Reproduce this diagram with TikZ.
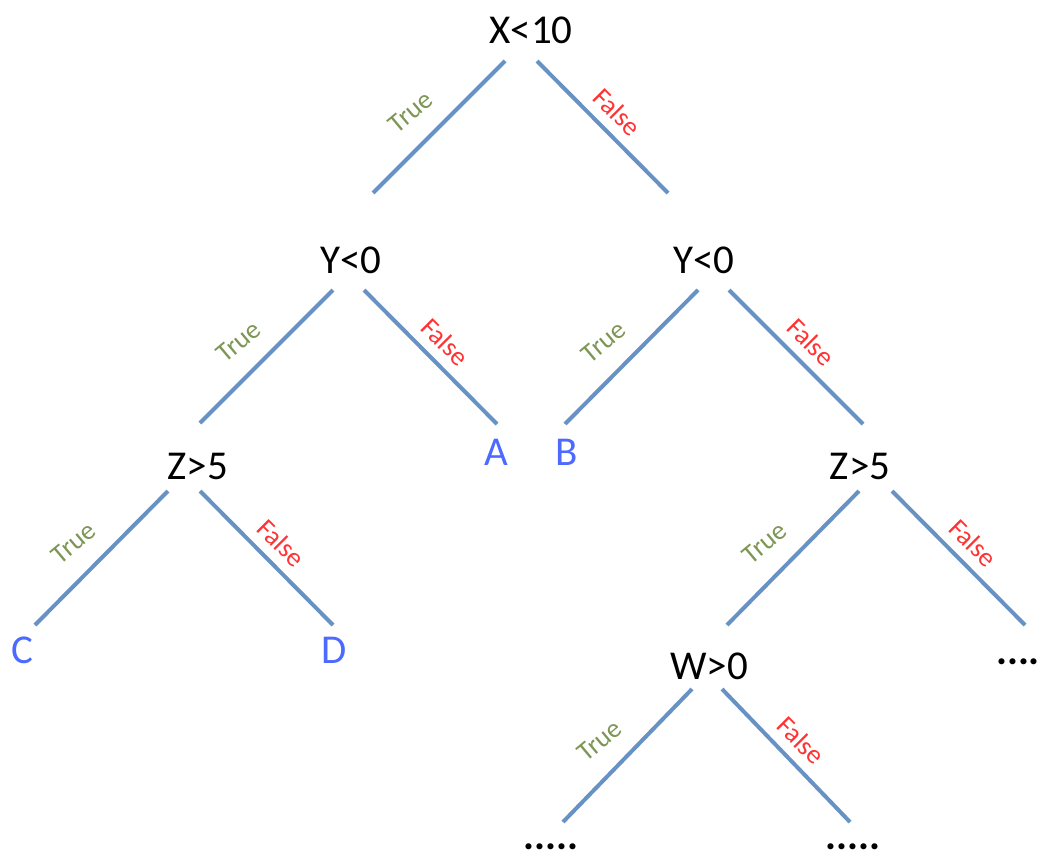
\documentclass[tikz,border=0pt]{standalone}
\usepackage{fontspec}
\setmainfont{Carlito}
\usepackage{xcolor}
\definecolor{branchblue}{RGB}{104,146,196}
\definecolor{truegreen}{RGB}{125,150,85}
\definecolor{falsered}{RGB}{255,51,51}
\definecolor{leafblue}{RGB}{76,106,255}

\begin{document}
\begin{tikzpicture}[x=1pt,y=-1pt,
  test/.style={font=\fontsize{41}{49}\selectfont},
  leaf/.style={test,text=leafblue},
  more/.style={font=\fontsize{41}{49}\selectfont\bfseries},
  branch/.style={branchblue,line width=4pt},
  truelab/.style={midway,shift={(-28,-15)},rotate=40,text=truegreen,font=\fontsize{27}{32}\selectfont},
  falselab/.style={midway,shift={(15,-15)},rotate=-45,text=falsered,font=\fontsize{27}{32}\selectfont}]
\tikzstyle{every node}+=[inner sep=0pt]
\useasboundingbox (0,0) rectangle (1040,854);
\node [test] (root) at (531,30) {X<10};
\node [test] (yleft) at (351,260) {Y<0};
\node [test] (yright) at (704,260) {Y<0};
\node [test] (zleft) at (198,466) {Z>5};
\node [test] (zright) at (860,466) {Z>5};
\node [test] (wnode) at (709,666) {W>0};
\node [leaf] (leafa) at (496,452) {A};
\node [leaf] (leafb) at (567,452) {B};
\node [leaf] (leafc) at (22,650) {C};
\node [leaf] (leafd) at (334,650) {D};
\node [more] (dotsr) at (1018,662) {....};
\node [more] (dotsl) at (551,847) {.....};
\node [more] (dotsm) at (853,847) {.....};
\draw [branch] ([shift={(-26,31)}]root.center) -- ([shift={(22,-67)}]yleft.center) node [truelab] {True};
\draw [branch] ([shift={(6,31)}]root.center) -- ([shift={(-36,-67)}]yright.center) node [falselab] {False};
\draw [branch] ([shift={(-18,30)}]yleft.center) -- ([shift={(2,-43)}]zleft.center) node [truelab] {True};
\draw [branch] ([shift={(13,30)}]yleft.center) -- ([shift={(1,-28)}]leafa.center) node [falselab] {False};
\draw [branch] ([shift={(-6,30)}]yright.center) -- ([shift={(-2,-28)}]leafb.center) node [truelab] {True};
\draw [branch] ([shift={(25,30)}]yright.center) -- ([shift={(3,-42)}]zright.center) node [falselab] {False};
\draw [branch] ([shift={(-30,25)}]zleft.center) -- ([shift={(13,-25)}]leafc.center) node [truelab] {True};
\draw [branch] ([shift={(2,25)}]zleft.center) -- ([shift={(-1,-25)}]leafd.center) node [falselab] {False};
\draw [branch] ([shift={(-1,25)}]zright.center) -- ([shift={(18,-41)}]wnode.center) node [truelab] {True};
\draw [branch] ([shift={(32,25)}]zright.center) -- ([shift={(7,-37)}]dotsr.center) node [falselab] {False};
\draw [branch] ([shift={(-17,23)}]wnode.center) -- ([shift={(12,-25)}]dotsl.center) node [truelab] {True};
\draw [branch] ([shift={(13,23)}]wnode.center) -- ([shift={(-3,-25)}]dotsm.center) node [falselab] {False};
\end{tikzpicture}
\end{document}
